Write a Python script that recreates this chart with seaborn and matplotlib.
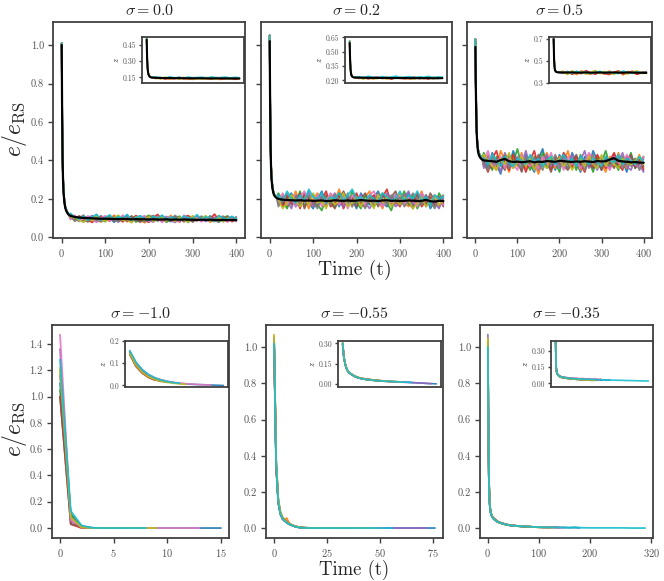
import matplotlib
matplotlib.use('Agg')
import matplotlib.pyplot as plt
import seaborn as sns
from matplotlib.ticker import FormatStrFormatter

sns.set_style('ticks')
plt.rcParams['font.family'] = ['cmr10', 'DejaVu Serif']
plt.rcParams['mathtext.fontset'] = 'cm'
plt.rcParams['axes.unicode_minus'] = False
plt.rcParams['axes.formatter.use_mathtext'] = True
plt.rcParams['axes.edgecolor'] = '#404040'
plt.rcParams['axes.linewidth'] = 1.3

pal = sns.color_palette('tab10', 10)

# ---------------- top row: sigma = 0.0, 0.2, 0.5 (time 0..400) ----------------
t_head = [0, 1, 2, 3, 4, 6, 8, 10, 13, 16]
t_tail = list(range(20, 401, 10))
t_top = t_head + t_tail

# sigma = 0.0
s00_head = [1.01, 0.63, 0.42, 0.31, 0.25, 0.19, 0.16, 0.145, 0.13, 0.12]
s00_mean = [1.0, 0.62, 0.41, 0.30, 0.24, 0.185, 0.155, 0.14, 0.127, 0.118,
            0.112, 0.106, 0.103, 0.101, 0.100, 0.099, 0.098, 0.097, 0.097, 0.096,
            0.096, 0.095, 0.096, 0.095, 0.094, 0.095, 0.094, 0.094, 0.093, 0.094,
            0.093, 0.093, 0.094, 0.092, 0.093, 0.092, 0.093, 0.092, 0.092, 0.091,
            0.092, 0.091, 0.092, 0.091, 0.090, 0.091, 0.090, 0.091, 0.090]
s00_tails = [
    [0.118, 0.092, 0.104, 0.081, 0.110, 0.095, 0.087, 0.112, 0.090, 0.101,
     0.079, 0.105, 0.093, 0.116, 0.088, 0.097, 0.084, 0.109, 0.092, 0.100,
     0.086, 0.113, 0.094, 0.082, 0.106, 0.091, 0.099, 0.078, 0.108, 0.093,
     0.101, 0.085, 0.112, 0.090, 0.096, 0.083, 0.104, 0.092, 0.088],
    [0.105, 0.113, 0.088, 0.099, 0.084, 0.112, 0.096, 0.080, 0.107, 0.094,
     0.115, 0.087, 0.101, 0.082, 0.098, 0.110, 0.091, 0.076, 0.103, 0.095,
     0.108, 0.083, 0.097, 0.114, 0.089, 0.102, 0.081, 0.096, 0.111, 0.087,
     0.093, 0.106, 0.079, 0.099, 0.113, 0.090, 0.085, 0.101, 0.094],
    [0.122, 0.099, 0.083, 0.108, 0.097, 0.086, 0.114, 0.093, 0.082, 0.104,
     0.096, 0.110, 0.085, 0.099, 0.107, 0.080, 0.094, 0.103, 0.115, 0.088,
     0.097, 0.105, 0.079, 0.092, 0.101, 0.110, 0.087, 0.098, 0.083, 0.106,
     0.095, 0.089, 0.108, 0.097, 0.081, 0.100, 0.112, 0.086, 0.098],
    [0.110, 0.087, 0.101, 0.115, 0.089, 0.078, 0.100, 0.108, 0.094, 0.085,
     0.109, 0.097, 0.081, 0.106, 0.092, 0.113, 0.098, 0.087, 0.079, 0.104,
     0.119, 0.090, 0.101, 0.086, 0.095, 0.080, 0.107, 0.113, 0.091, 0.099,
     0.084, 0.102, 0.094, 0.121, 0.088, 0.097, 0.105, 0.082, 0.092],
    [0.097, 0.108, 0.094, 0.086, 0.103, 0.113, 0.082, 0.097, 0.106, 0.089,
     0.093, 0.079, 0.110, 0.096, 0.085, 0.101, 0.111, 0.093, 0.088, 0.080,
     0.099, 0.094, 0.109, 0.087, 0.078, 0.097, 0.104, 0.090, 0.085, 0.110,
     0.098, 0.083, 0.091, 0.104, 0.095, 0.087, 0.099, 0.108, 0.083],
    [0.101, 0.096, 0.112, 0.090, 0.081, 0.100, 0.106, 0.088, 0.095, 0.110,
     0.086, 0.099, 0.104, 0.083, 0.112, 0.091, 0.079, 0.097, 0.106, 0.113,
     0.087, 0.096, 0.084, 0.103, 0.109, 0.088, 0.093, 0.101, 0.080, 0.095,
     0.107, 0.097, 0.086, 0.083, 0.102, 0.110, 0.089, 0.094, 0.100],
    [0.093, 0.115, 0.085, 0.097, 0.108, 0.091, 0.079, 0.103, 0.112, 0.087,
     0.100, 0.091, 0.116, 0.089, 0.080, 0.098, 0.105, 0.112, 0.084, 0.093,
     0.102, 0.078, 0.098, 0.107, 0.092, 0.084, 0.115, 0.089, 0.100, 0.103,
     0.082, 0.096, 0.104, 0.087, 0.109, 0.093, 0.080, 0.097, 0.104],
    [0.114, 0.084, 0.099, 0.106, 0.092, 0.104, 0.089, 0.083, 0.099, 0.112,
     0.091, 0.084, 0.097, 0.107, 0.101, 0.086, 0.102, 0.081, 0.098, 0.108,
     0.090, 0.101, 0.087, 0.095, 0.114, 0.096, 0.082, 0.104, 0.097, 0.085,
     0.111, 0.090, 0.098, 0.088, 0.079, 0.105, 0.093, 0.088, 0.107],
    [0.107, 0.101, 0.090, 0.079, 0.099, 0.087, 0.111, 0.096, 0.085, 0.097,
     0.104, 0.115, 0.088, 0.093, 0.076, 0.107, 0.095, 0.090, 0.109, 0.084,
     0.094, 0.110, 0.086, 0.098, 0.083, 0.104, 0.092, 0.079, 0.112, 0.089,
     0.097, 0.113, 0.085, 0.094, 0.104, 0.081, 0.101, 0.090, 0.096],
    [0.125, 0.105, 0.095, 0.113, 0.088, 0.107, 0.120, 0.091, 0.103, 0.117,
     0.094, 0.108, 0.099, 0.119, 0.090, 0.104, 0.112, 0.096, 0.088, 0.110,
     0.101, 0.115, 0.093, 0.106, 0.098, 0.089, 0.111, 0.102, 0.096, 0.118,
     0.092, 0.107, 0.099, 0.085, 0.113, 0.100, 0.094, 0.109, 0.097],
]

# sigma = 0.2
s02_head = [1.05, 0.70, 0.49, 0.38, 0.32, 0.27, 0.24, 0.225, 0.215, 0.21]
s02_mean = [1.02, 0.68, 0.48, 0.37, 0.31, 0.26, 0.235, 0.22, 0.21, 0.205,
            0.200, 0.196, 0.194, 0.193, 0.192, 0.193, 0.191, 0.192, 0.190, 0.191,
            0.192, 0.189, 0.190, 0.193, 0.191, 0.190, 0.192, 0.190, 0.191, 0.194,
            0.192, 0.190, 0.191, 0.189, 0.192, 0.193, 0.190, 0.191, 0.189, 0.190,
            0.192, 0.191, 0.189, 0.190, 0.195, 0.188, 0.186, 0.190, 0.189]
s02_tails = [
    [0.21, 0.17, 0.20, 0.23, 0.16, 0.19, 0.22, 0.18, 0.15, 0.20,
     0.24, 0.17, 0.19, 0.21, 0.16, 0.22, 0.18, 0.20, 0.15, 0.23,
     0.19, 0.17, 0.21, 0.24, 0.18, 0.16, 0.20, 0.22, 0.17, 0.19,
     0.23, 0.16, 0.20, 0.18, 0.22, 0.15, 0.19, 0.21, 0.17],
    [0.18, 0.22, 0.16, 0.19, 0.24, 0.17, 0.21, 0.15, 0.20, 0.23,
     0.18, 0.16, 0.22, 0.19, 0.25, 0.17, 0.20, 0.16, 0.22, 0.18,
     0.21, 0.24, 0.17, 0.19, 0.15, 0.22, 0.20, 0.17, 0.23, 0.18,
     0.16, 0.21, 0.19, 0.24, 0.17, 0.20, 0.22, 0.16, 0.20],
    [0.23, 0.19, 0.15, 0.21, 0.18, 0.24, 0.16, 0.20, 0.22, 0.17,
     0.14, 0.21, 0.19, 0.16, 0.23, 0.20, 0.17, 0.24, 0.18, 0.15,
     0.22, 0.19, 0.16, 0.20, 0.23, 0.18, 0.14, 0.21, 0.19, 0.24,
     0.17, 0.22, 0.15, 0.19, 0.21, 0.18, 0.16, 0.23, 0.19],
    [0.20, 0.16, 0.22, 0.18, 0.21, 0.15, 0.23, 0.19, 0.17, 0.21,
     0.20, 0.24, 0.16, 0.18, 0.22, 0.15, 0.21, 0.19, 0.23, 0.17,
     0.16, 0.20, 0.22, 0.18, 0.21, 0.25, 0.17, 0.19, 0.16, 0.22,
     0.20, 0.18, 0.23, 0.16, 0.19, 0.21, 0.17, 0.20, 0.18],
    [0.17, 0.21, 0.19, 0.15, 0.22, 0.20, 0.18, 0.24, 0.16, 0.19,
     0.22, 0.17, 0.20, 0.23, 0.18, 0.16, 0.21, 0.17, 0.20, 0.22,
     0.18, 0.15, 0.19, 0.21, 0.17, 0.23, 0.20, 0.16, 0.18, 0.21,
     0.24, 0.17, 0.19, 0.22, 0.16, 0.20, 0.18, 0.15, 0.21],
    [0.22, 0.18, 0.21, 0.17, 0.19, 0.23, 0.15, 0.21, 0.18, 0.16,
     0.20, 0.22, 0.18, 0.15, 0.20, 0.24, 0.19, 0.21, 0.16, 0.20,
     0.23, 0.18, 0.20, 0.16, 0.22, 0.19, 0.21, 0.24, 0.17, 0.20,
     0.18, 0.15, 0.22, 0.20, 0.17, 0.23, 0.19, 0.21, 0.16],
    [0.19, 0.23, 0.17, 0.20, 0.16, 0.21, 0.24, 0.17, 0.19, 0.22,
     0.16, 0.19, 0.23, 0.20, 0.17, 0.21, 0.15, 0.22, 0.19, 0.21,
     0.17, 0.22, 0.24, 0.19, 0.16, 0.20, 0.18, 0.22, 0.20, 0.17,
     0.21, 0.19, 0.16, 0.23, 0.20, 0.18, 0.22, 0.19, 0.17],
    [0.16, 0.20, 0.23, 0.19, 0.21, 0.17, 0.20, 0.22, 0.18, 0.15,
     0.21, 0.19, 0.17, 0.22, 0.20, 0.18, 0.23, 0.16, 0.21, 0.19,
     0.15, 0.21, 0.18, 0.23, 0.20, 0.17, 0.22, 0.18, 0.21, 0.16,
     0.19, 0.23, 0.20, 0.17, 0.22, 0.19, 0.15, 0.20, 0.22],
    [0.20, 0.15, 0.18, 0.22, 0.19, 0.16, 0.20, 0.17, 0.23, 0.18,
     0.19, 0.15, 0.21, 0.17, 0.19, 0.23, 0.16, 0.18, 0.21, 0.16,
     0.20, 0.19, 0.15, 0.22, 0.18, 0.21, 0.16, 0.20, 0.17, 0.21,
     0.19, 0.15, 0.18, 0.21, 0.16, 0.19, 0.21, 0.17, 0.19],
    [0.22, 0.19, 0.24, 0.20, 0.18, 0.22, 0.19, 0.25, 0.21, 0.20,
     0.23, 0.18, 0.21, 0.20, 0.23, 0.19, 0.22, 0.25, 0.20, 0.21,
     0.19, 0.22, 0.20, 0.18, 0.23, 0.21, 0.19, 0.20, 0.24, 0.19,
     0.22, 0.20, 0.24, 0.19, 0.21, 0.17, 0.22, 0.20, 0.21],
]

# sigma = 0.5
s05_head = [1.03, 0.80, 0.66, 0.56, 0.51, 0.46, 0.44, 0.43, 0.42, 0.41]
s05_mean = [0.99, 0.78, 0.64, 0.55, 0.50, 0.45, 0.43, 0.42, 0.41, 0.405,
            0.400, 0.398, 0.396, 0.393, 0.402, 0.408, 0.396, 0.392, 0.394, 0.391,
            0.393, 0.396, 0.390, 0.394, 0.392, 0.397, 0.395, 0.393, 0.398, 0.396,
            0.394, 0.392, 0.395, 0.393, 0.396, 0.394, 0.392, 0.397, 0.395, 0.396,
            0.405, 0.412, 0.398, 0.395, 0.393, 0.390, 0.392, 0.389, 0.388]
s05_tails = [
    [0.41, 0.36, 0.44, 0.38, 0.33, 0.42, 0.37, 0.45, 0.39, 0.35,
     0.43, 0.38, 0.34, 0.41, 0.46, 0.37, 0.40, 0.35, 0.43, 0.38,
     0.36, 0.44, 0.39, 0.34, 0.42, 0.37, 0.45, 0.40, 0.35, 0.41,
     0.38, 0.43, 0.36, 0.40, 0.34, 0.42, 0.39, 0.37, 0.41],
    [0.37, 0.43, 0.39, 0.35, 0.45, 0.40, 0.34, 0.41, 0.37, 0.44,
     0.36, 0.42, 0.39, 0.33, 0.40, 0.44, 0.38, 0.36, 0.42, 0.39,
     0.45, 0.37, 0.41, 0.35, 0.39, 0.43, 0.36, 0.41, 0.38, 0.34,
     0.42, 0.37, 0.44, 0.39, 0.36, 0.41, 0.38, 0.43, 0.36],
    [0.44, 0.39, 0.35, 0.42, 0.38, 0.36, 0.43, 0.39, 0.46, 0.37,
     0.40, 0.35, 0.42, 0.38, 0.44, 0.36, 0.41, 0.39, 0.34, 0.43,
     0.38, 0.41, 0.35, 0.43, 0.37, 0.40, 0.34, 0.42, 0.39, 0.45,
     0.37, 0.40, 0.35, 0.42, 0.38, 0.44, 0.36, 0.39, 0.42],
    [0.39, 0.34, 0.41, 0.45, 0.37, 0.40, 0.35, 0.43, 0.38, 0.41,
     0.34, 0.40, 0.45, 0.37, 0.39, 0.42, 0.35, 0.41, 0.38, 0.44,
     0.40, 0.36, 0.42, 0.38, 0.34, 0.41, 0.37, 0.43, 0.39, 0.36,
     0.40, 0.44, 0.38, 0.35, 0.42, 0.39, 0.37, 0.41, 0.35],
    [0.36, 0.42, 0.38, 0.40, 0.34, 0.44, 0.39, 0.36, 0.42, 0.38,
     0.45, 0.37, 0.41, 0.35, 0.39, 0.43, 0.37, 0.40, 0.36, 0.41,
     0.38, 0.43, 0.37, 0.40, 0.45, 0.36, 0.39, 0.35, 0.42, 0.38,
     0.36, 0.41, 0.39, 0.44, 0.37, 0.35, 0.41, 0.38, 0.34],
    [0.42, 0.38, 0.36, 0.41, 0.39, 0.35, 0.42, 0.37, 0.40, 0.34,
     0.41, 0.38, 0.36, 0.43, 0.37, 0.39, 0.34, 0.42, 0.40, 0.37,
     0.35, 0.39, 0.43, 0.37, 0.41, 0.38, 0.36, 0.40, 0.35, 0.42,
     0.39, 0.36, 0.41, 0.37, 0.40, 0.43, 0.36, 0.39, 0.37],
    [0.40, 0.45, 0.37, 0.39, 0.42, 0.36, 0.41, 0.38, 0.35, 0.43,
     0.39, 0.37, 0.40, 0.36, 0.42, 0.38, 0.44, 0.37, 0.41, 0.35,
     0.42, 0.38, 0.40, 0.36, 0.39, 0.44, 0.41, 0.37, 0.40, 0.38,
     0.35, 0.42, 0.39, 0.37, 0.43, 0.40, 0.38, 0.36, 0.42],
    [0.38, 0.35, 0.42, 0.37, 0.40, 0.43, 0.36, 0.40, 0.38, 0.36,
     0.42, 0.40, 0.37, 0.39, 0.35, 0.41, 0.38, 0.43, 0.37, 0.40,
     0.36, 0.41, 0.38, 0.42, 0.35, 0.39, 0.43, 0.37, 0.41, 0.39,
     0.37, 0.40, 0.42, 0.36, 0.39, 0.37, 0.41, 0.35, 0.39],
    [0.43, 0.40, 0.37, 0.35, 0.41, 0.38, 0.44, 0.36, 0.39, 0.42,
     0.37, 0.41, 0.35, 0.40, 0.38, 0.36, 0.42, 0.39, 0.41, 0.37,
     0.40, 0.35, 0.39, 0.41, 0.37, 0.42, 0.38, 0.36, 0.43, 0.37,
     0.41, 0.38, 0.36, 0.41, 0.39, 0.38, 0.40, 0.42, 0.38],
    [0.41, 0.38, 0.43, 0.40, 0.37, 0.42, 0.39, 0.37, 0.41, 0.40,
     0.38, 0.43, 0.39, 0.41, 0.37, 0.40, 0.42, 0.38, 0.40, 0.43,
     0.39, 0.41, 0.37, 0.42, 0.40, 0.38, 0.41, 0.39, 0.37, 0.42,
     0.40, 0.39, 0.43, 0.38, 0.41, 0.40, 0.38, 0.42, 0.39],
]

# top-row insets (z)
t_in_top = [0, 2, 4, 6, 8, 12, 16, 20] + list(range(40, 401, 20))
in_top_colors = [1, 3, 8, 9]
z00_head = [0.52, 0.33, 0.24, 0.20, 0.18, 0.16, 0.155, 0.15]
z00_mean = [0.50, 0.32, 0.235, 0.195, 0.175, 0.158, 0.152, 0.148,
            0.145, 0.144, 0.143, 0.143, 0.142, 0.142, 0.142, 0.141, 0.141, 0.141,
            0.141, 0.140, 0.140, 0.140, 0.140, 0.140, 0.139, 0.139, 0.139]
z00_tails = [
    [0.150, 0.137, 0.146, 0.132, 0.143, 0.138, 0.149, 0.131, 0.144, 0.136,
     0.147, 0.133, 0.141, 0.139, 0.130, 0.145, 0.136, 0.142, 0.134],
    [0.139, 0.148, 0.133, 0.145, 0.136, 0.150, 0.134, 0.142, 0.131, 0.146,
     0.137, 0.143, 0.132, 0.148, 0.138, 0.135, 0.144, 0.131, 0.140],
    [0.144, 0.135, 0.151, 0.138, 0.147, 0.133, 0.142, 0.146, 0.135, 0.140,
     0.132, 0.149, 0.137, 0.134, 0.146, 0.139, 0.133, 0.147, 0.136],
    [0.153, 0.147, 0.141, 0.155, 0.145, 0.150, 0.143, 0.152, 0.146, 0.149,
     0.151, 0.144, 0.154, 0.146, 0.148, 0.152, 0.145, 0.150, 0.147],
]
z02_head = [0.61, 0.42, 0.32, 0.275, 0.255, 0.24, 0.235, 0.232]
z02_mean = [0.59, 0.41, 0.31, 0.27, 0.25, 0.237, 0.232, 0.229,
            0.228, 0.227, 0.226, 0.226, 0.225, 0.225, 0.225, 0.224, 0.224, 0.224,
            0.224, 0.223, 0.223, 0.223, 0.223, 0.223, 0.222, 0.222, 0.223]
z02_tails = [
    [0.233, 0.218, 0.229, 0.214, 0.226, 0.221, 0.235, 0.216, 0.227, 0.220,
     0.231, 0.213, 0.224, 0.229, 0.217, 0.228, 0.219, 0.232, 0.222],
    [0.220, 0.231, 0.215, 0.227, 0.236, 0.219, 0.225, 0.213, 0.230, 0.222,
     0.216, 0.228, 0.234, 0.218, 0.226, 0.214, 0.230, 0.221, 0.227],
    [0.226, 0.214, 0.232, 0.220, 0.218, 0.229, 0.213, 0.227, 0.222, 0.233,
     0.219, 0.225, 0.215, 0.231, 0.220, 0.236, 0.218, 0.224, 0.228],
    [0.238, 0.230, 0.242, 0.233, 0.229, 0.240, 0.231, 0.236, 0.244, 0.230,
     0.235, 0.239, 0.229, 0.237, 0.233, 0.241, 0.230, 0.236, 0.234],
]
z05_head = [0.71, 0.52, 0.45, 0.42, 0.41, 0.40, 0.398, 0.396]
z05_mean = [0.70, 0.51, 0.44, 0.415, 0.405, 0.398, 0.396, 0.395,
            0.394, 0.393, 0.395, 0.392, 0.393, 0.394, 0.392, 0.393, 0.394, 0.392,
            0.393, 0.394, 0.393, 0.392, 0.394, 0.393, 0.392, 0.391, 0.390]
z05_tails = [
    [0.405, 0.382, 0.398, 0.374, 0.410, 0.388, 0.376, 0.402, 0.391, 0.379,
     0.408, 0.385, 0.397, 0.373, 0.404, 0.389, 0.380, 0.399, 0.386],
    [0.386, 0.404, 0.377, 0.395, 0.383, 0.411, 0.392, 0.378, 0.400, 0.384,
     0.375, 0.396, 0.409, 0.381, 0.390, 0.406, 0.376, 0.393, 0.402],
    [0.399, 0.375, 0.410, 0.387, 0.401, 0.379, 0.396, 0.412, 0.383, 0.403,
     0.389, 0.377, 0.401, 0.394, 0.380, 0.398, 0.408, 0.384, 0.391],
    [0.392, 0.401, 0.385, 0.406, 0.390, 0.398, 0.384, 0.395, 0.404, 0.388,
     0.399, 0.391, 0.383, 0.407, 0.395, 0.386, 0.400, 0.392, 0.397],
]

# ---------------- bottom row: sigma = -1.0, -0.55, -0.35 ----------------
t_m100 = list(range(0, 16))
m100_traces = [
    [1.10, 0.10, 0.012, 0.002, 0, 0, 0, 0, 0, 0, 0, 0, 0, 0, 0, 0],
    [1.20, 0.07, 0.015, 0.0, 0, 0, 0],
    [1.05, 0.11, 0.010, 0.0, 0, 0],
    [1.00, 0.03, 0.0, 0.0, 0],
    [1.36, 0.05, 0.005, 0.0, 0, 0, 0, 0],
    [1.00, 0.03, 0.010, 0.0, 0, 0],
    [1.47, 0.06, 0.008, 0.0, 0, 0, 0, 0, 0, 0, 0, 0, 0, 0],
    [1.16, 0.09, 0.010, 0.0, 0, 0, 0],
    [1.22, 0.08, 0.005, 0.0, 0, 0, 0, 0, 0, 0],
    [1.28, 0.13, 0.020, 0.002, 0, 0, 0, 0, 0],
]
z_m100_traces = [
    [0.150, 0.098, 0.066, 0.045, 0.031, 0.022, 0.016, 0.012, 0.009, 0.007,
     0.005, 0.004, 0.003, 0.002, 0.001, 0.0],
    [0.145, 0.092, 0.060, 0.040, 0.027, 0.019, 0.014],
    [0.148, 0.095, 0.062, 0.042, 0.029, 0.020],
    [0.140, 0.085, 0.055, 0.036, 0.024],
    [0.152, 0.100, 0.068, 0.047, 0.033, 0.024, 0.018, 0.013],
    [0.142, 0.088, 0.057, 0.038, 0.026, 0.018],
    [0.155, 0.103, 0.070, 0.049, 0.035, 0.026, 0.019, 0.014, 0.011, 0.008,
     0.006, 0.004, 0.003, 0.002],
    [0.146, 0.094, 0.061, 0.041, 0.028, 0.020, 0.014],
    [0.144, 0.090, 0.058, 0.039, 0.027, 0.019, 0.014, 0.010, 0.007, 0.005],
    [0.157, 0.105, 0.072, 0.050, 0.035, 0.025, 0.018, 0.013, 0.010],
]

t_m055 = [0, 1, 2, 3, 4, 5, 6, 7, 8, 10, 12, 14, 16, 20, 24, 28, 32, 36, 40,
          44, 48, 52, 56, 60, 64, 68, 72, 76]
m055_traces = [
    [1.03, 0.34, 0.14, 0.08, 0.05, 0.04, 0.03, 0.022, 0.017, 0.008, 0.004, 0.002,
     0.001, 0, 0, 0, 0, 0, 0, 0, 0, 0, 0, 0, 0, 0, 0, 0],
    [1.06, 0.37, 0.16, 0.09, 0.06, 0.045, 0.055, 0.03, 0.02, 0.01, 0.004, 0.002,
     0.001, 0, 0, 0, 0, 0],
    [1.04, 0.35, 0.15, 0.085, 0.055, 0.04, 0.03, 0.023, 0.017, 0.008, 0.003, 0.001,
     0, 0, 0, 0, 0, 0, 0, 0],
    [1.02, 0.33, 0.14, 0.075, 0.05, 0.038, 0.035, 0.025, 0.018, 0.009, 0.004, 0.001,
     0, 0, 0, 0],
    [1.05, 0.36, 0.15, 0.08, 0.056, 0.042, 0.031, 0.024, 0.018, 0.009, 0.004, 0.002,
     0.001, 0, 0, 0, 0, 0, 0, 0, 0, 0, 0, 0, 0, 0, 0],
    [1.03, 0.35, 0.145, 0.082, 0.06, 0.045, 0.035, 0.026, 0.019, 0.01, 0.004, 0.002,
     0, 0, 0, 0, 0, 0, 0],
    [1.04, 0.36, 0.15, 0.08, 0.054, 0.04, 0.032, 0.024, 0.018, 0.009, 0.004, 0.001,
     0, 0, 0, 0, 0, 0, 0, 0, 0, 0],
    [1.05, 0.355, 0.148, 0.079, 0.053, 0.041, 0.03, 0.022, 0.016, 0.008, 0.003, 0.001,
     0, 0, 0, 0, 0],
    [1.07, 0.38, 0.16, 0.088, 0.058, 0.043, 0.033, 0.025, 0.019, 0.01, 0.005, 0.002,
     0.001, 0, 0, 0, 0, 0, 0, 0, 0],
    [1.02, 0.35, 0.14, 0.078, 0.052, 0.039, 0.03, 0.023, 0.017, 0.008, 0.003, 0.001,
     0, 0, 0, 0, 0, 0, 0, 0, 0, 0, 0],
]
z_m055_traces = [
    [0.30, 0.20, 0.15, 0.12, 0.10, 0.087, 0.079, 0.073, 0.067, 0.057, 0.050, 0.046,
     0.041, 0.036, 0.033, 0.028, 0.025, 0.024, 0.020, 0.019, 0.016, 0.016, 0.012,
     0.011, 0.009, 0.006, 0.005, 0.003],
    [0.29, 0.19, 0.15, 0.12, 0.10, 0.09, 0.083, 0.076, 0.07, 0.06, 0.052, 0.046,
     0.042, 0.036, 0.031, 0.029, 0.025, 0.022],
    [0.30, 0.20, 0.145, 0.115, 0.097, 0.086, 0.078, 0.072, 0.066, 0.056, 0.049,
     0.044, 0.039, 0.033, 0.029, 0.026, 0.023, 0.021, 0.019, 0.017],
    [0.29, 0.195, 0.148, 0.118, 0.099, 0.088, 0.081, 0.075, 0.069, 0.059, 0.051,
     0.046, 0.043, 0.038, 0.032, 0.028],
    [0.30, 0.20, 0.152, 0.121, 0.101, 0.089, 0.08, 0.075, 0.069, 0.058, 0.051,
     0.045, 0.041, 0.035, 0.032, 0.027, 0.025, 0.022, 0.021, 0.018, 0.017, 0.014,
     0.013, 0.010, 0.009, 0.007, 0.004],
    [0.30, 0.198, 0.15, 0.12, 0.10, 0.088, 0.079, 0.074, 0.068, 0.057, 0.049,
     0.044, 0.04, 0.034, 0.031, 0.027, 0.024, 0.021, 0.020],
    [0.30, 0.20, 0.151, 0.119, 0.10, 0.087, 0.08, 0.073, 0.068, 0.059, 0.05,
     0.045, 0.04, 0.036, 0.03, 0.028, 0.024, 0.023, 0.019, 0.018, 0.015, 0.014],
    [0.295, 0.197, 0.149, 0.119, 0.099, 0.087, 0.079, 0.073, 0.067, 0.057, 0.05,
     0.044, 0.04, 0.034, 0.031, 0.026, 0.024],
    [0.31, 0.205, 0.153, 0.122, 0.102, 0.09, 0.082, 0.076, 0.07, 0.06, 0.052,
     0.047, 0.042, 0.036, 0.032, 0.029, 0.026, 0.023, 0.021, 0.019, 0.016],
    [0.30, 0.20, 0.15, 0.12, 0.10, 0.088, 0.08, 0.074, 0.068, 0.058, 0.05, 0.045,
     0.04, 0.035, 0.03, 0.027, 0.024, 0.022, 0.02, 0.018, 0.016, 0.015, 0.013],
]

t_m035 = [0, 1, 2, 3, 4, 5, 6, 8, 10, 12, 14, 16, 18, 20, 25, 30, 35, 40, 45, 50,
          60, 70, 80, 90, 100, 110, 120, 130, 140, 150, 160, 170, 180,
          200, 220, 240, 260, 280, 300, 308]
m035_traces = [
    [1.01, 0.53, 0.27, 0.165, 0.118, 0.093, 0.079, 0.064, 0.056, 0.049,
     0.046, 0.039, 0.036, 0.034, 0.027, 0.025, 0.019, 0.018, 0.014, 0.014,
     0.010, 0.009, 0.008, 0.006, 0.005, 0.004, 0.004, 0.006, 0.003, 0.003,
     0.002, 0.002, 0.001],
    [1.04, 0.56, 0.29, 0.175, 0.125, 0.10, 0.085, 0.07, 0.058, 0.052,
     0.044, 0.042, 0.036, 0.035, 0.029, 0.023, 0.021, 0.016, 0.016, 0.012,
     0.012, 0.008, 0.008, 0.006, 0.004, 0.003],
    [1.02, 0.54, 0.275, 0.168, 0.12, 0.094, 0.078, 0.063, 0.053, 0.048,
     0.043, 0.039, 0.035, 0.032, 0.027, 0.022, 0.019, 0.017, 0.014, 0.012,
     0.010, 0.008, 0.007, 0.005],
    [1.03, 0.55, 0.28, 0.17, 0.122, 0.097, 0.083, 0.068, 0.06, 0.054,
     0.05, 0.045, 0.04, 0.036, 0.03, 0.026, 0.021, 0.018, 0.015, 0.015,
     0.011, 0.009, 0.007, 0.006, 0.005, 0.004, 0.003, 0.003, 0.002],
    [1.07, 0.57, 0.29, 0.172, 0.121, 0.096, 0.081, 0.066, 0.056, 0.051,
     0.045, 0.041, 0.038, 0.033, 0.028, 0.024, 0.02, 0.017, 0.015, 0.013,
     0.011, 0.008],
    [1.02, 0.54, 0.28, 0.17, 0.12, 0.096, 0.08, 0.066, 0.057, 0.05,
     0.046, 0.041, 0.036, 0.034, 0.028, 0.023, 0.021, 0.016, 0.014, 0.013,
     0.011, 0.009, 0.007, 0.006, 0.005, 0.004, 0.003],
    [1.04, 0.55, 0.28, 0.17, 0.12, 0.095, 0.08, 0.065, 0.056, 0.05,
     0.045, 0.04, 0.037, 0.035, 0.029, 0.025, 0.02, 0.018, 0.015, 0.014,
     0.011, 0.010, 0.008, 0.006, 0.005, 0.004, 0.004, 0.003, 0.002, 0.002],
    [1.03, 0.55, 0.28, 0.17, 0.12, 0.095, 0.08, 0.064, 0.055, 0.05,
     0.044, 0.04, 0.037, 0.033, 0.028, 0.024, 0.02, 0.017, 0.015, 0.013,
     0.011, 0.009, 0.008, 0.006, 0.004],
    [1.05, 0.56, 0.285, 0.172, 0.123, 0.097, 0.082, 0.066, 0.057, 0.051,
     0.046, 0.041, 0.037, 0.034, 0.028, 0.024, 0.02, 0.017, 0.016, 0.013,
     0.011, 0.009, 0.008, 0.006, 0.005, 0.004, 0.003, 0.003],
    [1.00, 0.54, 0.28, 0.168, 0.12, 0.094, 0.08, 0.065, 0.055, 0.05,
     0.045, 0.04, 0.036, 0.034, 0.028, 0.024, 0.02, 0.017, 0.015, 0.013,
     0.011, 0.009, 0.008, 0.006, 0.005, 0.004, 0.004, 0.003, 0.003, 0.003,
     0.002, 0.005, 0.002, 0.001, 0.001, 0.001, 0.001, 0.0, 0.0, 0.0],
]
z_m035_traces = [
    [0.44, 0.20, 0.14, 0.115, 0.10, 0.09, 0.087, 0.076, 0.073, 0.066,
     0.067, 0.060, 0.062, 0.055, 0.057, 0.050, 0.053, 0.046, 0.049, 0.043,
     0.045, 0.038, 0.042, 0.035, 0.039, 0.033, 0.037, 0.031, 0.036, 0.029,
     0.034, 0.028, 0.032],
    [0.45, 0.21, 0.145, 0.118, 0.10, 0.094, 0.084, 0.08, 0.07, 0.07,
     0.062, 0.064, 0.057, 0.06, 0.052, 0.055, 0.047, 0.05, 0.044, 0.047,
     0.04, 0.043, 0.037, 0.041, 0.034, 0.038],
    [0.44, 0.19, 0.135, 0.11, 0.097, 0.088, 0.083, 0.075, 0.07, 0.064,
     0.063, 0.058, 0.059, 0.054, 0.053, 0.049, 0.048, 0.045, 0.044, 0.042,
     0.04, 0.037, 0.036, 0.033],
    [0.45, 0.20, 0.14, 0.116, 0.101, 0.093, 0.088, 0.079, 0.074, 0.07,
     0.064, 0.066, 0.058, 0.061, 0.053, 0.056, 0.049, 0.051, 0.045, 0.048,
     0.041, 0.044, 0.036, 0.04, 0.034, 0.037, 0.031, 0.035, 0.029],
    [0.46, 0.21, 0.146, 0.118, 0.102, 0.095, 0.087, 0.08, 0.075, 0.069,
     0.068, 0.062, 0.063, 0.057, 0.058, 0.052, 0.054, 0.049, 0.05, 0.045,
     0.046, 0.042],
    [0.44, 0.19, 0.138, 0.112, 0.098, 0.089, 0.084, 0.076, 0.071, 0.067,
     0.062, 0.061, 0.057, 0.056, 0.052, 0.051, 0.047, 0.046, 0.043, 0.042,
     0.039, 0.038, 0.035, 0.034, 0.031, 0.03, 0.028],
    [0.45, 0.205, 0.143, 0.117, 0.101, 0.093, 0.087, 0.079, 0.074, 0.07,
     0.066, 0.064, 0.06, 0.059, 0.055, 0.057, 0.051, 0.054, 0.048, 0.05,
     0.046, 0.048, 0.043, 0.046, 0.041, 0.044, 0.039, 0.043, 0.037, 0.041],
    [0.44, 0.20, 0.14, 0.114, 0.099, 0.091, 0.085, 0.077, 0.072, 0.066,
     0.065, 0.059, 0.06, 0.054, 0.055, 0.049, 0.05, 0.045, 0.046, 0.041,
     0.042, 0.037, 0.038, 0.034, 0.035],
    [0.45, 0.20, 0.14, 0.115, 0.10, 0.092, 0.086, 0.078, 0.072, 0.068,
     0.063, 0.062, 0.057, 0.057, 0.052, 0.052, 0.047, 0.047, 0.043, 0.043,
     0.039, 0.039, 0.035, 0.035, 0.031, 0.031, 0.027, 0.027],
    [0.46, 0.21, 0.145, 0.117, 0.101, 0.093, 0.087, 0.079, 0.073, 0.069,
     0.066, 0.063, 0.061, 0.059, 0.056, 0.053, 0.051, 0.049, 0.048, 0.046,
     0.044, 0.042, 0.041, 0.039, 0.038, 0.037, 0.036, 0.035, 0.034, 0.033,
     0.032, 0.031, 0.03, 0.029, 0.028, 0.026, 0.025, 0.023, 0.022, 0.021],
]

titles = [r'$\sigma = 0.0$', r'$\sigma = 0.2$', r'$\sigma = 0.5$',
          r'$\sigma = -1.0$', r'$\sigma = -0.55$', r'$\sigma = -0.35$']

SPINE = '#404040'
LABEL = '#555555'


def style(ax, size=7.5, length=3.5, pad=3):
    ax.tick_params(length=length, width=1, color=SPINE, labelcolor=LABEL,
                   labelsize=size, pad=pad)
    for s in ax.spines.values():
        s.set_color(SPINE)
        s.set_linewidth(1.3)
    ax.set_xlabel('')
    ax.set_ylabel('')


def draw(ax, t, traces, colors, lw, mean=None):
    for y, c in zip(traces, colors):
        sns.lineplot(x=t[:len(y)], y=y, color=c, lw=lw, alpha=0.9, ax=ax)
    if mean is not None:
        sns.lineplot(x=t[:len(mean)], y=mean, color='black', lw=lw + 0.3, ax=ax)


fig = plt.figure(figsize=(6.64, 5.81), dpi=100)

top_pos = [[0.0798, 0.5904, 0.2892, 0.3718],
           [0.3931, 0.5904, 0.2877, 0.3718],
           [0.7033, 0.5904, 0.2786, 0.3718]]
top_in_pos = [[0.2139, 0.8571, 0.1536, 0.0792],
              [0.5196, 0.8571, 0.1536, 0.0792],
              [0.8268, 0.8571, 0.1536, 0.0792]]
bot_pos = [[0.0783, 0.0745, 0.2666, 0.3661],
           [0.4006, 0.0745, 0.2666, 0.3661],
           [0.7229, 0.0745, 0.2605, 0.3661]]
bot_in_pos = [[0.1883, 0.3339, 0.1551, 0.0792],
              [0.5090, 0.3339, 0.1551, 0.0792],
              [0.8298, 0.3339, 0.1536, 0.0792]]

top_data = [(s00_head, s00_tails, s00_mean, z00_head, z00_tails, z00_mean,
             (0.097, 0.524), [0.15, 0.30, 0.45], '%.2f'),
            (s02_head, s02_tails, s02_mean, z02_head, z02_tails, z02_mean,
             (0.172, 0.653), [0.20, 0.35, 0.50, 0.65], '%.2f'),
            (s05_head, s05_tails, s05_mean, z05_head, z05_tails, z05_mean,
             (0.297, 0.72), [0.3, 0.5, 0.7], '%.1f')]

for i, (head, tails, mean, zh, zt, zm, zlim, zticks, zfmt) in enumerate(top_data):
    ax = fig.add_axes(top_pos[i])
    traces = [head + tl for tl in tails]
    draw(ax, t_top, traces, pal, 1.3, mean)
    ax.set_xlim(-20, 420)
    ax.set_ylim(-0.003, 1.12)
    ax.set_xticks([0, 100, 200, 300, 400])
    ax.set_yticks([0.0, 0.2, 0.4, 0.6, 0.8, 1.0])
    ax.yaxis.set_major_formatter(FormatStrFormatter('%.1f'))
    ax.set_title(titles[i], fontsize=11.5, pad=5)
    style(ax)
    if i > 0:
        ax.tick_params(labelleft=False)

    ins = fig.add_axes(top_in_pos[i])
    ztraces = [zh + tl for tl in zt]
    draw(ins, t_in_top, ztraces, [pal[k] for k in in_top_colors], 1.2, zm)
    ins.set_xlim(-20, 420)
    ins.set_ylim(*zlim)
    ins.set_yticks(zticks)
    ins.yaxis.set_major_formatter(FormatStrFormatter(zfmt))
    ins.set_xticks([])
    style(ins, size=5.5, length=2.5, pad=1.5)
    ins.set_ylabel('$z$', fontsize=6, labelpad=1)

bot_data = [(t_m100, m100_traces, z_m100_traces, [0, 5, 10, 15],
             [0.0, 0.2, 0.4, 0.6, 0.8, 1.0, 1.2, 1.4],
             (-0.007, 0.2), [0.0, 0.1, 0.2], '%.1f'),
            (t_m055, m055_traces, z_m055_traces, [0, 25, 50, 75],
             [0.0, 0.2, 0.4, 0.6, 0.8, 1.0],
             (-0.02, 0.317), [0.0, 0.15, 0.30], '%.2f'),
            (t_m035, m035_traces, z_m035_traces, [0, 100, 200, 320],
             [0.0, 0.2, 0.4, 0.6, 0.8, 1.0],
             (-0.034, 0.393), [0.0, 0.15, 0.30], '%.2f')]

for i, (t, traces, ztraces, xt, yt, zlim, zticks, zfmt) in enumerate(bot_data):
    ax = fig.add_axes(bot_pos[i])
    draw(ax, t, traces, pal, 1.3)
    ax.set_xticks(xt)
    ax.set_yticks(yt)
    ax.margins(x=0.05, y=0.05)
    ax.yaxis.set_major_formatter(FormatStrFormatter('%.1f'))
    ax.set_title(titles[i + 3], fontsize=11.5, pad=5)
    style(ax)

    ins = fig.add_axes(bot_in_pos[i])
    draw(ins, t, ztraces, pal, 1.2)
    ins.set_ylim(*zlim)
    ins.set_yticks(zticks)
    ins.yaxis.set_major_formatter(FormatStrFormatter(zfmt))
    ins.set_xticks([])
    style(ins, size=5.5, length=2.5, pad=1.5)
    ins.set_ylabel('$z$', fontsize=6, labelpad=1)

fig.text(0.535, 0.535, 'Time (t)', fontsize=14, ha='center', va='center')
fig.text(0.533, 0.002, 'Time (t)', fontsize=13.5, ha='center', va='bottom')
fig.text(0.022, 0.778, r'$e/e_{\mathrm{RS}}$', fontsize=17, rotation=90,
         ha='center', va='center')
fig.text(0.022, 0.262, r'$e/e_{\mathrm{RS}}$', fontsize=17, rotation=90,
         ha='center', va='center')

fig.savefig('out.png', dpi=100)
